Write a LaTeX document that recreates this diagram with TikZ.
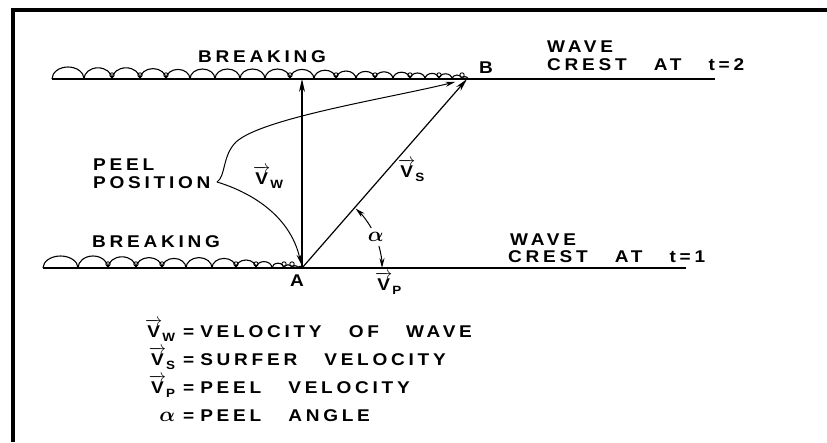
\documentclass[tikz,border=0pt]{standalone}
\usepackage{amsmath}
\usepackage{fontspec}
\newfontfamily\lblfont{Liberation Sans Bold}[FakeStretch=1.12,LetterSpace=22,WordSpace=3]
\usetikzlibrary{arrows.meta,calc}
\newcommand{\vel}[1]{$\overrightarrow{\mbox{V}}$\raisebox{-4pt}{\fontsize{12}{12}\selectfont #1}}

\begin{document}
\begin{tikzpicture}[x=1pt,y=-1pt,>={Stealth[length=13pt,width=6pt]},
  lbl/.style={font=\lblfont\fontsize{17}{20}\selectfont,inner sep=0pt},
  crest/.style={line width=1.3pt},
  vec/.style={->,line width=1.2pt},
  thinvec/.style={-{Stealth[length=10pt,width=5pt]},line width=1pt}]
  \useasboundingbox (0,0) rectangle (827,442);
  \fill[white] (0,0) rectangle (827,442);
  % frame
  \draw[line width=3.6pt] (13,442) -- (13,10) -- (827,10);

  % wave crests
  \coordinate (A) at (302,268);
  \coordinate (B) at (467,79);
  \coordinate (W) at (302,79);
  \coordinate (t0) at (52,79);
  \coordinate (t1) at (715,79);
  \coordinate (b0) at (43,268);
  \coordinate (b1) at (686,268);
  \draw[crest] (t0) -- (t1);
  \draw[crest] (b0) -- (b1);

  % breaking scallops
  \foreach \a/\b in {52/84,84/112,112/140,140/166,166/190,190/215,215/240,240/265,
      265/290,290/314,314/336,336/356,356/375,375/393,393/410,410/425,425/439,
      439/452,452/462,462/468}
    \draw[line width=1.1pt] (\a,79) arc[start angle=180,end angle=360,
      x radius={(\b-\a)/2},y radius={min(12,0.4*(\b-\a))}];
  \foreach \a/\b in {43/78,78/108,108/136,136/162,162/186,186/212,212/236,
      236/256,256/272,272/284,284/292,292/298,298/302}
    \draw[line width=1.1pt] (\a,268) arc[start angle=180,end angle=360,
      x radius={(\b-\a)/2},y radius={min(12,0.4*(\b-\a))}];
  \foreach \x in {112,140,166,290,336,375,410,439,462}
    \draw[line width=0.9pt] (\x,75) circle[radius=2.2];
  \foreach \x in {108,136,162,236,256,284,292}
    \draw[line width=0.9pt] (\x,264) circle[radius=2.2];

  % velocity vectors
  \draw[vec] (A) -- (W);
  \draw[vec] (A) -- (B);

  % peel position
  \coordinate (tip) at (217,182);
  \draw[thinvec,shorten >=12pt] (tip) .. controls (226,176) and (222,156) .. (236,142)
    .. controls (262,118) and (390,98) .. (B);
  \draw[thinvec,shorten >=4pt] (tip) .. controls (250,192) and (290,215) .. (A);

  % peel angle
  \draw[thinvec] ([shift={(-30:80)}]A) arc[start angle=-30,end angle=-48,radius=80];
  \draw[thinvec] ([shift={(-16:80)}]A) arc[start angle=-16,end angle=0,radius=80];
  \node[lbl] (alpha) at ([shift={(-23:80)}]A) {\fontsize{20}{20}\selectfont$\boldsymbol{\alpha}$};

  % labels
  \node[lbl,anchor=base] (bt) at (262,62) {BREAKING};
  \node[lbl,anchor=base] (bb) at (156,247) {BREAKING};
  \node[lbl,anchor=base west] (wave2) at (547,52) {WAVE};
  \node[lbl,anchor=base west] (crest2) at (547,70) {CREST AT t=2};
  \node[lbl,anchor=base west] (wave1) at (510,245) {WAVE};
  \node[lbl,anchor=base west] (crest1) at (508,262) {CREST AT t=1};
  \node[lbl,anchor=base west] (peel) at (93,170) {PEEL};
  \node[lbl,anchor=base west] (pos) at (93,188) {POSITION};
  \node[lbl,anchor=base] (la) at (297,286) {A};
  \node[lbl,anchor=base west] (lb) at (479,73) {B};
  \node[lbl,anchor=base west] (vw) at (253,184) {\vel{W}};
  \node[lbl,anchor=base west] (vs) at (398,177) {\vel{S}};
  \node[lbl,anchor=base west] (vp) at (375,290) {\vel{P}};

  % legend
  \node[lbl,anchor=base west] (legend) at (145,337) {\def\arraystretch{1.415}%
    \begin{tabular}[t]{@{}r@{\hspace{8pt}=\hspace{6pt}}l@{}}
      \vel{W} & VELOCITY OF WAVE\\
      \vel{S} & SURFER VELOCITY\\
      \vel{P} & PEEL VELOCITY\\
      \fontsize{20}{20}\selectfont$\boldsymbol{\alpha}$ & PEEL ANGLE
    \end{tabular}};
\end{tikzpicture}
\end{document}
